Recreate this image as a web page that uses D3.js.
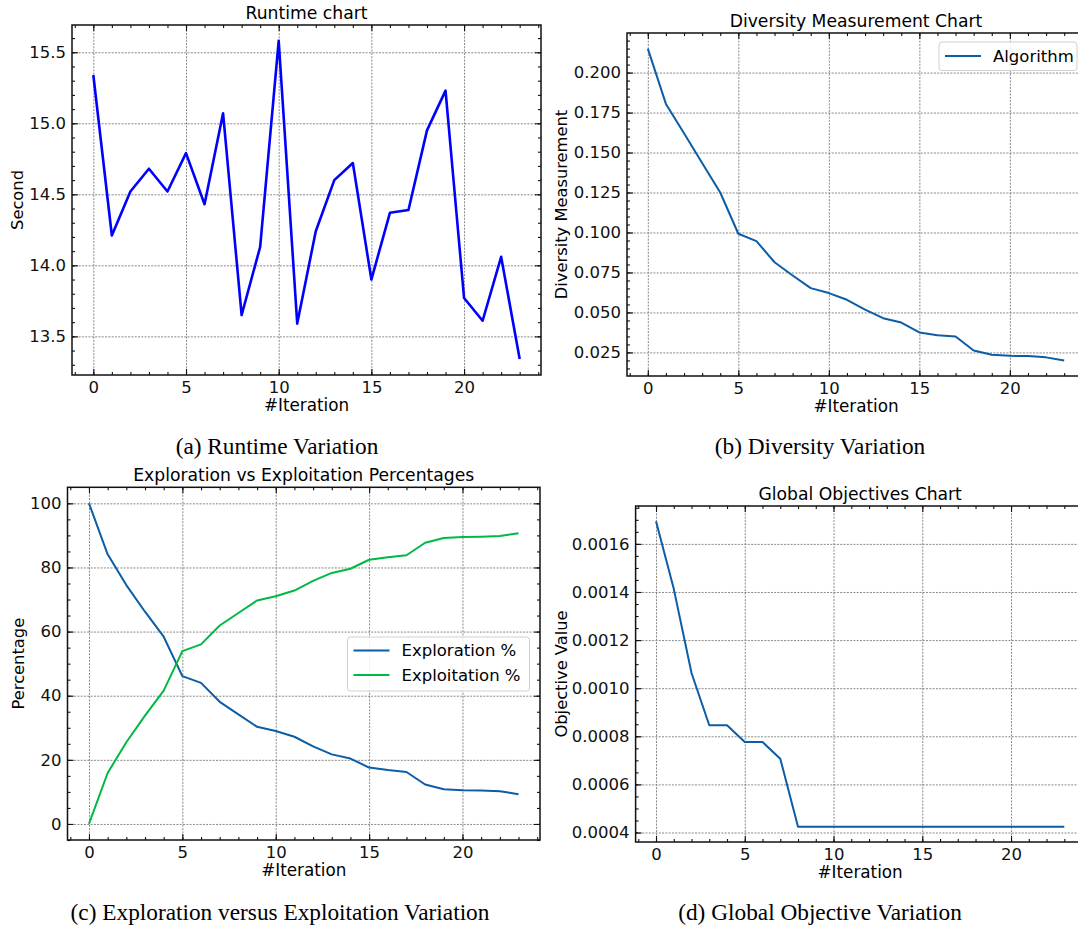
<!DOCTYPE html>
<html>
<head>
<meta charset="utf-8">
<script src="https://cdn.jsdelivr.net/npm/d3@7/dist/d3.min.js"></script>
<style>
    body { margin: 0; background: #fff; overflow: hidden; }
    svg { display: block; }
</style>
</head>
<body>
<div id="chart"></div>
<script>
/* * * * * * * * * * * * * * * * *
 *   Algorithm run diagnostics   *
 * * * * * * * * * * * * * * * * */

// x values shared by all four panels
const iterations = [0, 1, 2, 3, 4, 5, 6, 7, 8, 9, 10, 11, 12, 13, 14, 15, 16, 17, 18, 19, 20, 21, 22, 23];

// (a) runtime per iteration, seconds
const runtimeSeconds = [15.34, 14.21, 14.52, 14.68, 14.52, 14.79, 14.43, 15.07, 13.65, 14.13, 15.58, 13.59,
    14.24, 14.60, 14.72, 13.90, 14.37, 14.39, 14.95, 15.23, 13.77, 13.61, 14.06, 13.34];

// (b) diversity measurement
const diversity = [0.215, 0.1804, 0.162, 0.1435, 0.125, 0.0992, 0.0946, 0.0814, 0.0731, 0.0652, 0.0621, 0.0579,
    0.0517, 0.0464, 0.0437, 0.0375, 0.0358, 0.0350, 0.0262, 0.0236, 0.0229, 0.0227, 0.0219, 0.0200];

// (c) exploration / exploitation percentages
const explorationPct = [100, 84.1, 74.5, 66.2, 58.4, 46.1, 44.0, 38.1, 34.2, 30.3, 29.0, 27.2,
    24.2, 21.7, 20.4, 17.6, 16.8, 16.2, 12.3, 10.8, 10.5, 10.4, 10.2, 9.3];
const exploitationPct = [0, 15.9, 25.5, 33.8, 41.6, 53.9, 56.0, 61.9, 65.8, 69.7, 71.0, 72.8,
    75.8, 78.3, 79.6, 82.4, 83.2, 83.8, 87.7, 89.2, 89.5, 89.6, 89.8, 90.7];

// (d) global objective value
const objectiveValue = [0.001694, 0.001413, 0.001063, 0.000846, 0.000846, 0.000776, 0.000776, 0.000707,
    0.000424, 0.000424, 0.000424, 0.000424, 0.000424, 0.000424, 0.000424, 0.000424,
    0.000424, 0.000424, 0.000424, 0.000424, 0.000424, 0.000424, 0.000424, 0.000424];

// tick labels
const xTicks = [0, 5, 10, 15, 20];
const runtimeTicks = [13.5, 14.0, 14.5, 15.0, 15.5];
const diversityTicks = [0.025, 0.050, 0.075, 0.100, 0.125, 0.150, 0.175, 0.200];
const percentTicks = [0, 20, 40, 60, 80, 100];
const objectiveTicks = [0.0004, 0.0006, 0.0008, 0.0010, 0.0012, 0.0014, 0.0016];

const BLUE = "#0C5DA5", GREEN = "#00B945";
const SANS = "'DejaVu Sans', sans-serif";

const svg = d3.select("#chart")
    .append("svg")
    .attr("width", 1078)
    .attr("height", 929);

// matplotlib style 5% margins
function padded(ext) {
    let m = (ext[1] - ext[0]) * 0.05;
    return [ext[0] - m, ext[1] + m];
}

function styleAxis(sel, size) {
    sel.select(".domain").remove();
    sel.selectAll("line").attr("stroke", "#111").attr("stroke-width", 1.1);
    sel.selectAll("text")
        .attr("fill", "#111")
        .style("font-family", SANS)
        .style("font-size", size + "px");
}

function drawPanel(p) {
    let x = d3.scaleLinear().domain(padded(d3.extent(iterations))).range([p.left, p.right]);
    let allVals = p.series.flatMap(s => s.values);
    let y = d3.scaleLinear().domain(padded(d3.extent(allVals))).range([p.bottom, p.top]);

    let w = p.right - p.left, h = p.bottom - p.top;
    let g = svg.append("g");

    let xd = x.domain(), yd = y.domain();
    let minorX = d3.range(Math.ceil(xd[0]), xd[1], 1);
    let minorY = d3.range(Math.ceil(yd[0] / p.minorStep - 1e-6) * p.minorStep, yd[1], p.minorStep);

    // grid
    let grid = g.append("g").attr("class", "grid");
    grid.append("g")
        .attr("transform", `translate(0,${p.bottom})`)
        .call(d3.axisBottom(x).tickValues(xTicks).tickSize(-h).tickFormat(""));
    grid.append("g")
        .attr("transform", `translate(${p.left},0)`)
        .call(d3.axisLeft(y).tickValues(p.yTicks).tickSize(-w).tickFormat(""));
    grid.selectAll(".domain").remove();
    grid.selectAll("line")
        .attr("stroke", "#7a7a7a")
        .attr("stroke-width", 0.9)
        .attr("stroke-dasharray", "2,1.3");

    // lines
    let line = d3.line()
        .x((d, i) => x(iterations[i]))
        .y(d => y(d));
    p.series.forEach(s => {
        g.append("path")
            .datum(s.values)
            .attr("d", line)
            .attr("fill", "none")
            .attr("stroke", s.color)
            .attr("stroke-width", s.width)
            .attr("stroke-linejoin", "round")
            .attr("stroke-linecap", "butt");
    });

    // ticks on all four sides, pointing inwards
    let bottom = g.append("g").attr("transform", `translate(0,${p.bottom})`)
        .call(d3.axisBottom(x).tickValues(xTicks).tickSizeInner(-6).tickSizeOuter(0).tickPadding(6).tickFormat(d3.format("d")));
    styleAxis(bottom, 16.5);
    let bottomMinor = g.append("g").attr("transform", `translate(0,${p.bottom})`)
        .call(d3.axisBottom(x).tickValues(minorX).tickSize(-3).tickFormat(""));
    styleAxis(bottomMinor, 10);
    let top = g.append("g").attr("transform", `translate(0,${p.top})`)
        .call(d3.axisTop(x).tickValues(xTicks).tickSize(-6).tickFormat(""));
    styleAxis(top, 10);
    let topMinor = g.append("g").attr("transform", `translate(0,${p.top})`)
        .call(d3.axisTop(x).tickValues(minorX).tickSize(-3).tickFormat(""));
    styleAxis(topMinor, 10);

    let left = g.append("g").attr("transform", `translate(${p.left},0)`)
        .call(d3.axisLeft(y).tickValues(p.yTicks).tickSizeInner(-6).tickSizeOuter(0).tickPadding(6).tickFormat(d3.format(p.yFormat)));
    styleAxis(left, 16.5);
    let leftMinor = g.append("g").attr("transform", `translate(${p.left},0)`)
        .call(d3.axisLeft(y).tickValues(minorY).tickSize(-3).tickFormat(""));
    styleAxis(leftMinor, 10);
    let right = g.append("g").attr("transform", `translate(${p.right},0)`)
        .call(d3.axisRight(y).tickValues(p.yTicks).tickSize(-6).tickFormat(""));
    styleAxis(right, 10);
    let rightMinor = g.append("g").attr("transform", `translate(${p.right},0)`)
        .call(d3.axisRight(y).tickValues(minorY).tickSize(-3).tickFormat(""));
    styleAxis(rightMinor, 10);

    // spines
    g.append("rect")
        .attr("x", p.left).attr("y", p.top)
        .attr("width", w).attr("height", h)
        .attr("fill", "none")
        .attr("stroke", "#111")
        .attr("stroke-width", 1.5);

    // title + axis labels
    let cx = (p.left + p.right) / 2;
    g.append("text")
        .attr("x", cx).attr("y", p.top - 6)
        .attr("text-anchor", "middle")
        .style("font-family", SANS).style("font-size", "17.2px")
        .text(p.title);
    g.append("text")
        .attr("x", cx).attr("y", p.bottom + 36)
        .attr("text-anchor", "middle")
        .style("font-family", SANS).style("font-size", "16.8px")
        .text("#Iteration");
    g.append("text")
        .attr("transform", `translate(${p.ylabelX},${(p.top + p.bottom) / 2}) rotate(-90)`)
        .attr("text-anchor", "middle")
        .style("font-family", SANS).style("font-size", "16.3px")
        .text(p.ylabel);

    // legend
    if (p.legend) {
        let L = p.legend;
        g.append("rect")
            .attr("x", L.x).attr("y", L.y)
            .attr("width", L.w).attr("height", L.h)
            .attr("rx", 3)
            .attr("fill", "#fff").attr("fill-opacity", 0.85)
            .attr("stroke", "#d0d0d0").attr("stroke-width", 1);
        p.series.forEach((s, i) => {
            let ry = L.y + L.firstRow + i * L.rowGap;
            g.append("line")
                .attr("x1", L.x + 6).attr("x2", L.x + 42)
                .attr("y1", ry).attr("y2", ry)
                .attr("stroke", s.color).attr("stroke-width", s.width);
            g.append("text")
                .attr("x", L.x + 54).attr("y", ry)
                .attr("dy", "0.36em")
                .style("font-family", SANS).style("font-size", "16.5px")
                .text(s.name);
        });
    }

    // sub-figure caption
    svg.append("text")
        .attr("x", p.captionX).attr("y", p.captionY)
        .attr("text-anchor", "middle")
        .style("font-family", "'Liberation Serif', 'Times New Roman', serif")
        .style("font-size", "23.3px")
        .text(p.caption);
}

const panels = [
    {
        left: 72, right: 541, top: 25, bottom: 375,
        series: [{ name: "Runtime", values: runtimeSeconds, color: "#0000FF", width: 2.6 }],
        yTicks: runtimeTicks, yFormat: ".1f", minorStep: 0.1,
        title: "Runtime chart", ylabel: "Second", ylabelX: 23,
        caption: "(a) Runtime Variation", captionX: 277, captionY: 454
    },
    {
        left: 627, right: 1085, top: 33, bottom: 376,
        series: [{ name: "Algorithm", values: diversity, color: BLUE, width: 2 }],
        yTicks: diversityTicks, yFormat: ".3f", minorStep: 0.005,
        title: "Diversity Measurement Chart", ylabel: "Diversity Measurement", ylabelX: 567,
        legend: { x: 939, y: 42, w: 138, h: 28.5, firstRow: 14, rowGap: 25 },
        caption: "(b) Diversity Variation", captionX: 820, captionY: 454
    },
    {
        left: 67.5, right: 540, top: 487.3, bottom: 840,
        series: [
            { name: "Exploration %", values: explorationPct, color: BLUE, width: 2 },
            { name: "Exploitation %", values: exploitationPct, color: GREEN, width: 2 }
        ],
        yTicks: percentTicks, yFormat: "d", minorStep: 5,
        title: "Exploration vs Exploitation Percentages", ylabel: "Percentage", ylabelX: 23.5,
        legend: { x: 347.5, y: 637, w: 182, h: 54, firstRow: 13.5, rowGap: 24.5 },
        caption: "(c) Exploration versus Exploitation Variation", captionX: 280, captionY: 920
    },
    {
        left: 635.6, right: 1084.7, top: 506, bottom: 842,
        series: [{ name: "Objective", values: objectiveValue, color: BLUE, width: 2 }],
        yTicks: objectiveTicks, yFormat: ".4f", minorStep: 0.00005,
        title: "Global Objectives Chart", ylabel: "Objective Value", ylabelX: 567,
        caption: "(d) Global Objective Variation", captionX: 820, captionY: 920
    }
];

panels.forEach(drawPanel);
</script>
</body>
</html>
